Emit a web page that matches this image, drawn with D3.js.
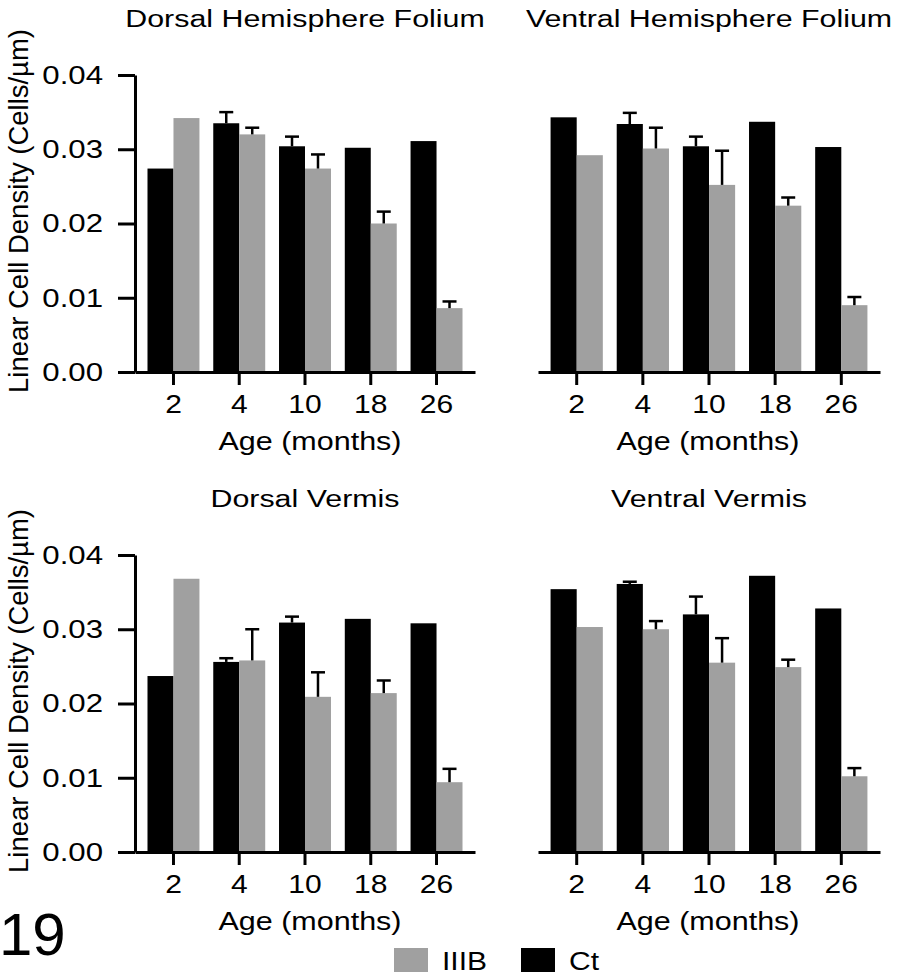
<!DOCTYPE html>
<html>
<head>
<meta charset="utf-8">
<script src="https://cdn.jsdelivr.net/npm/d3@7"></script>
<style>
  html, body { margin: 0; padding: 0; background: #fff; }
  svg { display: block; }
  text { font-family: "Liberation Sans", Arial, Helvetica, sans-serif; fill: #000; }
</style>
</head>
<body>
<svg id="chart" width="900" height="977"></svg>
<script>
// ---------------- DATA ----------------
const ages = ["2", "4", "10", "18", "26"];
const seriesNames = ["Ct", "IIIB"];
const legendNames = ["IIIB", "Ct"];
const yTicks = [0, 0.01, 0.02, 0.03, 0.04];
const panelTitles = ["Dorsal Hemisphere Folium", "Ventral Hemisphere Folium", "Dorsal Vermis", "Ventral Vermis"];
const figureNumber = "19";
const xAxisTitle = "Age (months)";
const yAxisTitle = "Linear Cell Density (Cells/\u00b5m)";

// Dorsal Hemisphere Folium
const dhfCt      = [0.0274, 0.0335, 0.0304, 0.0302, 0.0311];
const dhfCtErr   = [null,   0.0015, 0.0013, null,   null];
const dhfIIIB    = [0.0342, 0.0320, 0.0274, 0.0200, 0.0086];
const dhfIIIBErr = [null,   0.0009, 0.0019, 0.0016, 0.0009];
// Ventral Hemisphere Folium
const vhfCt      = [0.0343, 0.0334, 0.0304, 0.0337, 0.0303];
const vhfCtErr   = [null,   0.0015, 0.0013, null,   null];
const vhfIIIB    = [0.0292, 0.0301, 0.0252, 0.0224, 0.0090];
const vhfIIIBErr = [null,   0.0028, 0.0046, 0.0011, 0.0011];
// Dorsal Vermis
const dvCt       = [0.0237, 0.0256, 0.0309, 0.0314, 0.0308];
const dvCtErr    = [null,   0.0005, 0.0008, null,   null];
const dvIIIB     = [0.0368, 0.0258, 0.0209, 0.0214, 0.0094];
const dvIIIBErr  = [null,   0.0042, 0.0033, 0.0017, 0.0018];
// Ventral Vermis
const vvCt       = [0.0354, 0.0361, 0.0320, 0.0372, 0.0328];
const vvCtErr    = [null,   0.0003, 0.0024, null,   null];
const vvIIIB     = [0.0303, 0.0300, 0.0255, 0.0249, 0.0102];
const vvIIIBErr  = [null,   0.0011, 0.0033, 0.0010, 0.0011];

// ---------------- STYLE / LAYOUT ----------------
const colors = { "Ct": "#000000", "IIIB": "#a0a0a0" };
const FONT = "'Liberation Sans', Arial, Helvetica, sans-serif";

function stretch(sel, k) {
  sel.each(function () {
    const L = this.getComputedTextLength();
    this.setAttribute("textLength", L * k);
    this.setAttribute("lengthAdjust", "spacingAndGlyphs");
  });
}

const panels = [
  { title: panelTitles[0], ct: dhfCt, ctErr: dhfCtErr, iiib: dhfIIIB, iiibErr: dhfIIIBErr, x0: 135, x1: 475, dy: 0,   yAxis: true },
  { title: panelTitles[1], ct: vhfCt, ctErr: vhfCtErr, iiib: vhfIIIB, iiibErr: vhfIIIBErr, x0: 538, x1: 880, dy: 0,   yAxis: false },
  { title: panelTitles[2], ct: dvCt,  ctErr: dvCtErr,  iiib: dvIIIB,  iiibErr: dvIIIBErr,  x0: 135, x1: 475, dy: 480, yAxis: true },
  { title: panelTitles[3], ct: vvCt,  ctErr: vvCtErr,  iiib: vvIIIB,  iiibErr: vvIIIBErr,  x0: 538, x1: 880, dy: 480, yAxis: false }
];

const svg = d3.select("#chart");

panels.forEach(p => {
  const g = svg.append("g").attr("transform", `translate(0,${p.dy})`);
  const yTop = 75, yBot = 372;
  const y = d3.scaleLinear().domain([0, 0.04]).range([yBot, yTop]);
  const x = d3.scaleBand().domain(ages).range([p.x0, p.x1]).paddingInner(0.21).paddingOuter(0.19);
  const xs = d3.scaleBand().domain(seriesNames).range([0, x.bandwidth()]).padding(0);

  const rows = ages.map((a, i) => ({
    age: a,
    vals: [
      { s: "Ct", v: p.ct[i], e: p.ctErr[i] },
      { s: "IIIB", v: p.iiib[i], e: p.iiibErr[i] }
    ]
  }));

  // bars
  const grp = g.selectAll("g.grp").data(rows).join("g")
    .attr("class", "grp")
    .attr("transform", d => `translate(${x(d.age)},0)`);
  grp.selectAll("rect").data(d => d.vals).join("rect")
    .attr("x", d => xs(d.s))
    .attr("width", xs.bandwidth())
    .attr("y", d => y(d.v))
    .attr("height", d => y(0) - y(d.v))
    .attr("fill", d => colors[d.s]);

  // error bars (upper only)
  const eb = grp.selectAll("g.err").data(d => d.vals.filter(v => v.e != null)).join("g").attr("class", "err");
  eb.append("line")
    .attr("x1", d => xs(d.s) + xs.bandwidth() / 2)
    .attr("x2", d => xs(d.s) + xs.bandwidth() / 2)
    .attr("y1", d => y(d.v))
    .attr("y2", d => y(d.v + d.e))
    .attr("stroke", "#000").attr("stroke-width", 2.5);
  eb.append("line")
    .attr("x1", d => xs(d.s) + xs.bandwidth() / 2 - 7)
    .attr("x2", d => xs(d.s) + xs.bandwidth() / 2 + 7)
    .attr("y1", d => y(d.v + d.e))
    .attr("y2", d => y(d.v + d.e))
    .attr("stroke", "#000").attr("stroke-width", 2.5);

  // x axis
  const xAxis = g.append("g")
    .attr("transform", `translate(0,${yBot})`)
    .call(d3.axisBottom(x).tickSize(13).tickSizeOuter(0).tickPadding(10));
  xAxis.select(".domain").attr("stroke", "#000").attr("stroke-width", 3);
  xAxis.selectAll(".tick line").attr("stroke", "#000").attr("stroke-width", 3);
  xAxis.selectAll(".tick text").attr("font-size", 25).attr("font-family", FONT).attr("fill", "#000")
    .call(stretch, 1.2);

  // y axis
  if (p.yAxis) {
    const yAxis = g.append("g")
      .attr("transform", `translate(${p.x0},0)`)
      .call(d3.axisLeft(y).tickValues(yTicks).tickFormat(d3.format(".2f")).tickSize(17).tickSizeOuter(0).tickPadding(15));
    yAxis.select(".domain").attr("stroke", "#000").attr("stroke-width", 3);
    yAxis.selectAll(".tick line").attr("stroke", "#000").attr("stroke-width", 3);
    yAxis.selectAll(".tick text").attr("font-size", 26).attr("font-family", FONT).attr("fill", "#000")
      .call(stretch, 1.2);

    const yl = g.append("g").attr("transform", `translate(28,211) scale(1.15,1) rotate(-90)`);
    yl.append("text").attr("text-anchor", "middle").attr("font-size", 24)
      .attr("textLength", 364).attr("lengthAdjust", "spacingAndGlyphs")
      .text(yAxisTitle);
  }

  // panel title
  g.append("text")
    .attr("x", (p.x0 + p.x1) / 2).attr("y", 27)
    .attr("text-anchor", "middle").attr("font-size", 23)
    .text(p.title).call(stretch, 1.32);

  // x axis title
  g.append("text")
    .attr("x", (p.x0 + p.x1) / 2 + (p.yAxis ? 5 : -1)).attr("y", 450)
    .attr("text-anchor", "middle").attr("font-size", 25)
    .text(xAxisTitle).call(stretch, 1.22);
});

// figure number
svg.append("text").attr("x", -1).attr("y", 955).attr("font-size", 60).text(figureNumber);

// legend
const legendX = { "IIIB": 394, "Ct": 521 };
const lg = svg.selectAll("g.leg").data(legendNames).join("g").attr("class", "leg")
  .attr("transform", d => `translate(${legendX[d]},948)`);
lg.append("rect").attr("width", 34).attr("height", 24).attr("fill", d => colors[d]);
lg.append("text").attr("x", 48).attr("y", 22).attr("font-size", 25).text(d => d).call(stretch, 1.2);
</script>
</body>
</html>
